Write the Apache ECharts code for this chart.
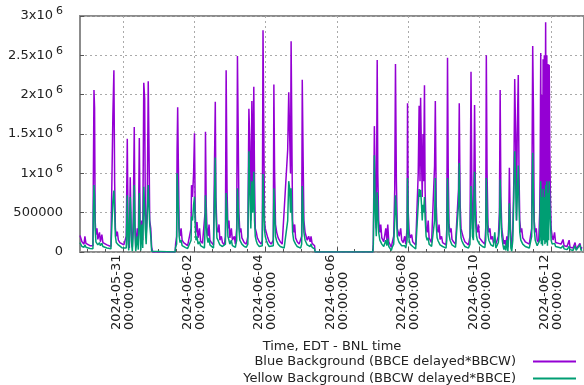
<!DOCTYPE html>
<html>
<head>
<meta charset="utf-8">
<script src="https://cdn.jsdelivr.net/npm/echarts@6/dist/echarts.min.js"></script>
<style>
  html, body { margin: 0; padding: 0; background: #fff; }
  #chart { width: 584px; height: 385px; }
</style>
</head>
<body>
<div id="chart"></div>
<script>
// time in hours from 2024-05-31 00:00 EDT, background rates in thousands
const hours = [
  -28.8,-27.5,-26.1,-25.5,-24.8,-23.5,-22.1,-20.8,-20.1,-19.8,-19.4,-19.0,-18.6,-18.1,-17.4,-16.8,-15.7,-15.1,-14.1,-13.4,-12.1,-10.7,-9.4,-8.0,
  -7.0,-6.7,-6.0,-5.5,-5.0,-4.4,-3.7,-3.0,-2.0,-0.7,0.7,1.7,
  2.3,3.0,3.6,4.0,4.4,5.0,5.7,6.4,7.0,7.7,8.2,8.7,9.7,10.4,11.1,11.6,12.1,12.7,13.4,14.1,14.7,15.1,15.7,16.4,17.1,17.6,18.1,18.8,19.4,20.1,
  35.2,35.5,36.2,36.5,36.9,37.3,37.9,38.5,39.2,39.9,40.9,42.2,43.6,44.9,
  45.9,46.2,46.9,47.6,48.2,48.7,49.2,49.9,50.6,51.6,52.3,53.6,54.9,
  55.3,55.6,56.1,56.6,57.3,58.0,58.6,59.6,61.0,
  61.6,62.2,62.6,63.3,64.0,64.7,65.3,66.3,67.0,68.3,
  69.0,69.5,70.1,70.7,71.4,72.0,73.0,73.7,75.0,75.7,
  76.6,77.1,77.6,78.1,78.7,79.4,80.1,81.1,81.7,83.1,84.1,
  84.8,85.4,86.1,86.8,87.4,88.1,88.6,89.1,89.8,90.5,91.8,93.1,
  93.8,94.3,94.8,95.3,95.8,96.5,97.5,98.5,99.8,
  101.2,101.6,102.1,102.7,103.5,104.5,105.9,107.2,108.5,
  110.9,111.6,112.2,112.8,113.2,113.8,114.2,114.9,115.6,116.2,117.3,118.6,119.6,
  120.3,120.7,121.3,121.8,122.6,123.3,124.0,125.0,126.0,126.6,127.3,128.3,129.0,129.3,
  168.2,168.5,169.2,169.8,170.5,171.1,171.5,172.1,172.9,173.5,174.2,175.5,176.9,177.6,178.2,178.9,179.9,180.6,181.2,182.2,
  182.9,183.4,184.0,184.6,185.3,185.9,186.9,187.6,188.6,189.6,190.3,
  191.2,191.5,192.0,192.6,193.3,194.3,195.0,196.0,197.0,198.0,
  198.7,199.3,199.9,200.3,200.9,201.4,201.9,202.3,202.9,203.3,204.0,204.7,205.4,206.0,207.0,207.7,209.0,
  209.7,210.2,210.8,211.4,212.1,212.7,213.4,214.4,215.1,216.4,217.4,
  217.9,218.4,218.9,219.4,220.1,220.8,221.4,222.4,223.8,225.1,
  225.8,226.3,226.9,227.5,228.1,229.1,230.1,231.2,232.5,
  233.5,234.2,234.7,235.2,235.8,236.6,237.2,237.9,238.5,239.2,239.9,240.9,241.9,242.9,243.5,
  244.1,244.5,245.0,245.6,246.2,246.9,247.6,248.6,249.2,250.2,250.9,251.9,252.6,
  253.3,253.8,254.3,254.9,255.6,256.3,256.9,257.6,258.3,259.0,259.6,260.0,260.5,261.0,261.6,262.3,263.0,263.6,264.2,264.8,265.3,266.0,266.5,267.0,267.7,268.3,269.0,270.0,270.7,272.0,273.4,274.4,
  275.0,275.7,276.2,276.7,277.4,278.1,278.7,279.7,280.4,
  280.7,281.1,281.5,281.9,282.3,282.7,283.1,283.5,283.9,284.4,284.8,285.2,285.6,286.0,286.4,286.8,287.2,287.6,288.1,
  288.8,289.4,290.4,291.1,292.1,294.8,296.1,296.8,298.8,300.2,300.8,302.8,304.2,304.9,306.2,307.5,308.2,308.9
]

const blueBg = [
  210,130,100,200,110,90,80,70,80,1000,2060,1830,400,220,300,160,250,130,220,120,100,90,80,70,
  90,1720,2310,900,300,200,260,150,120,100,90,80,
  200,1440,200,80,50,950,250,60,400,1590,350,60,300,100,1450,400,100,400,150,2150,1950,600,200,500,2170,1350,400,300,60,0,
  0,100,200,1300,1840,1200,300,200,300,150,120,100,80,70,
  300,850,700,1000,1510,500,250,380,180,300,140,110,90,
  500,1530,600,300,200,350,150,120,90,
  1050,1910,700,300,250,350,150,200,120,90,
  200,2310,800,300,400,180,300,150,200,100,
  300,2490,1550,500,250,300,180,200,120,100,200,
  1820,1400,400,1920,800,2100,900,300,250,180,130,100,
  150,2820,1600,400,300,250,180,130,100,
  150,2130,1000,350,250,180,130,100,90,
  1300,2030,1500,1000,2680,1200,400,250,350,180,130,100,90,
  200,2190,1150,400,250,200,150,200,130,200,110,90,80,0,
  0,150,1600,800,300,2440,1000,400,250,350,180,130,300,150,350,130,150,60,120,200,
  800,2390,900,300,250,200,300,150,120,200,100,
  300,1890,500,250,180,220,130,110,90,70,
  1000,1860,900,1960,1200,700,1500,900,2120,800,300,250,400,180,200,120,100,
  1100,1920,600,300,250,350,160,200,120,100,90,
  300,2470,1000,350,250,300,160,130,100,90,
  800,1890,600,300,250,180,130,110,90,
  200,2290,1000,300,250,1870,700,300,250,350,180,200,130,110,100,
  300,2500,1000,350,250,300,160,200,120,150,100,80,200,
  500,2060,700,300,200,100,150,80,200,60,400,1070,500,100,60,300,900,2200,1500,400,1500,2250,1000,400,250,300,180,200,130,110,100,90,
  300,2620,1800,400,250,300,150,120,500,
  1050,2530,400,2000,300,2450,500,2500,350,2920,400,2500,300,2390,500,2380,1300,700,300,
  200,150,250,120,110,100,160,80,70,150,60,50,120,40,30,110,40,60
]

const yellowBg = [
  120,70,60,90,60,50,45,40,40,500,850,700,300,130,150,90,120,80,110,70,60,50,45,40,
  50,650,780,500,200,120,140,90,70,55,50,40,
  50,720,100,20,10,700,150,10,250,850,250,10,200,30,750,300,20,350,50,830,550,300,100,450,850,600,350,200,10,0,
  0,60,100,1000,990,600,200,120,150,80,70,55,45,40,
  150,450,400,600,700,350,150,200,100,130,80,60,50,
  300,720,400,200,120,180,90,70,50,
  650,1200,500,180,150,150,90,100,70,50,
  100,750,500,200,180,100,150,80,100,60,
  150,810,600,300,150,160,100,100,70,60,100,
  1280,800,300,900,500,1020,400,200,140,100,70,60,
  80,990,600,280,200,150,100,70,60,
  80,810,500,200,140,100,70,60,50,
  400,900,800,500,810,500,250,150,150,100,70,60,50,
  100,840,500,250,150,120,90,100,70,100,60,50,40,0,
  0,100,1230,500,200,760,500,250,150,150,100,70,150,80,170,70,80,20,60,100,
  400,720,500,200,150,120,120,80,60,80,50,
  150,940,300,150,100,100,70,60,40,30,
  600,800,700,790,600,400,600,500,700,450,200,150,180,100,100,70,60,
  400,940,350,180,140,150,90,100,70,60,50,
  150,940,500,220,150,150,90,70,60,50,
  600,1130,350,180,140,100,70,60,50,
  100,840,500,200,150,1020,400,200,150,160,100,100,70,60,55,
  150,940,500,220,150,140,90,100,70,250,50,40,120,
  300,920,500,200,100,30,80,20,150,10,300,620,350,50,10,150,700,1280,900,400,700,1100,600,250,150,130,100,100,70,60,50,40,
  200,1260,700,300,150,130,80,60,150,
  500,900,100,700,80,800,150,700,100,850,120,900,80,750,150,900,600,400,150,
  100,80,110,70,60,50,80,40,30,70,30,20,80,20,15,90,20,30
]

const dateTicks = ['2024-05-31', '2024-06-02', '2024-06-04', '2024-06-06', '2024-06-08', '2024-06-10', '2024-06-12']

const HOUR = 3600 * 1000
const t0 = new Date(2024, 4, 31).getTime()
const toTime = h => t0 + h * HOUR

const blueData = hours.map((h, i) => [toTime(h), blueBg[i] * 1000])
const yellowData = hours.map((h, i) => [toTime(h), yellowBg[i] * 1000])

const majorTicks = dateTicks.map(d => {
  const p = d.split('-')
  return new Date(+p[0], +p[1] - 1, +p[2]).getTime()
})
// minor ticks every 12 hours
const minorTicks = []
for (let h = -24; h <= 300; h += 12) minorTicks.push(toTime(h))

const xMin = toTime(-28.8)
const xMax = toTime(310.2)

const chart = echarts.init(document.getElementById('chart'))

const option = {
  animation: false,
  textStyle: { fontFamily: 'DejaVu Sans' },
  grid: {
    left: 80, right: -2, top: 16, bottom: 133,
    show: true, borderColor: '#8c8c8c', borderWidth: 2
  },
  legend: {
    orient: 'vertical',
    right: 8,
    top: 355,
    height: 60,
    padding: 0,
    align: 'right',
    itemWidth: 43,
    itemHeight: 2,
    itemGap: 4,
    icon: 'rect',
    textStyle: { fontSize: 13, lineHeight: 13, color: '#222', padding: [0, 12, 0, 0] },
    data: ['Blue Background (BBCE delayed*BBCW)', 'Yellow Background (BBCW delayed*BBCE)']
  },
  xAxis: [
    {
      type: 'value',
      min: xMin,
      max: xMax,
      position: 'bottom',
      name: 'Time, EDT - BNL time',
      nameLocation: 'middle',
      nameGap: 88,
      nameTextStyle: { fontSize: 13, color: '#222' },
      axisLine: { show: false },
      axisTick: { show: true, inside: true, length: 5, customValues: majorTicks, lineStyle: { color: '#555' } },
      axisLabel: {
        customValues: majorTicks,
        rotate: 90,
        align: 'left',
        verticalAlign: 'middle',
        margin: 78,
        fontSize: 13,
        lineHeight: 13,
        color: '#222',
        formatter: v => echarts.time.format(v, '{yyyy}-{MM}-{dd}\n{HH}:{mm}:{ss}', false)
      },
      splitLine: { show: true, lineStyle: { color: '#aaa', type: [2, 3], width: 1 } }
    },
    {
      type: 'value',
      min: xMin,
      max: xMax,
      position: 'bottom',
      axisLine: { show: false },
      axisLabel: { show: false },
      splitLine: { show: false },
      axisTick: { show: true, inside: true, length: 3, customValues: minorTicks, lineStyle: { color: '#555' } }
    }
  ],
  yAxis: {
    type: 'value',
    min: 0,
    max: 3000000,
    interval: 500000,
    axisLine: { show: false },
    axisTick: { show: true, inside: true, length: 4, lineStyle: { color: '#555' } },
    splitLine: { show: true, lineStyle: { color: '#aaa', type: [2, 3], width: 1 } },
    axisLabel: {
      fontSize: 13,
      color: '#222',
      margin: 17,
      formatter: v => {
        if (v === 0) return '0'
        if (v === 500000) return '500000'
        return (v / 1000000) + 'x10{e|6}'
      },
      rich: {
        e: { fontSize: 11, color: '#222', verticalAlign: 'bottom', padding: [0, 0, 9, 3] }
      }
    }
  },
  series: [
    {
      name: 'Blue Background (BBCE delayed*BBCW)',
      type: 'line',
      data: blueData,
      showSymbol: false,
      symbol: 'none',
      sampling: null,
      color: '#9400d3',
      lineStyle: { width: 1.5, color: '#9400d3' }
    },
    {
      name: 'Yellow Background (BBCW delayed*BBCE)',
      type: 'line',
      data: yellowData,
      showSymbol: false,
      symbol: 'none',
      color: '#009e73',
      lineStyle: { width: 1.5, color: '#009e73' }
    }
  ]
}

chart.setOption(option)
</script>
</body>
</html>
